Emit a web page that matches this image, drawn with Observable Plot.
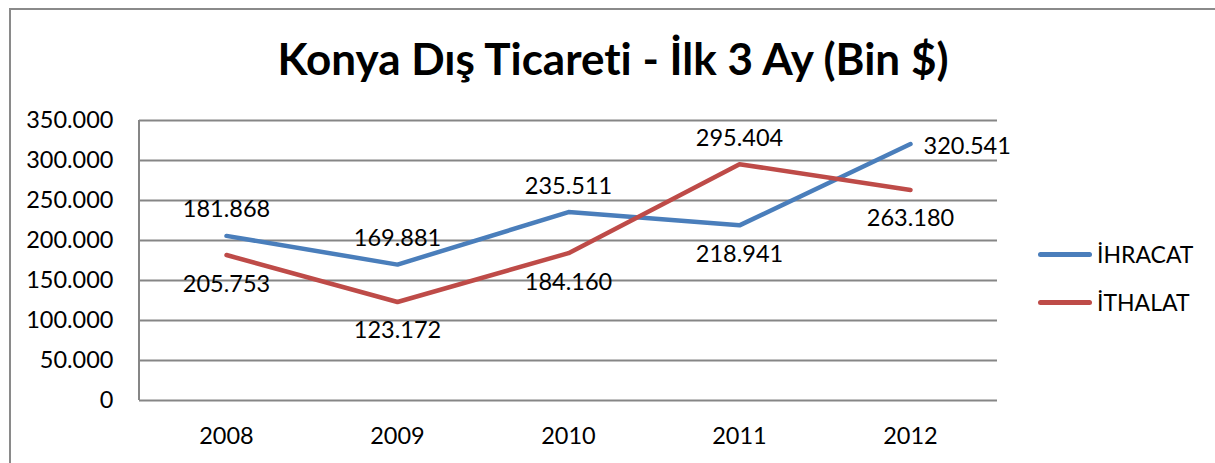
<!DOCTYPE html>
<html>
<head>
<meta charset="utf-8">
<script src="https://cdn.jsdelivr.net/npm/d3@7"></script>
<script src="https://cdn.jsdelivr.net/npm/@observablehq/plot@0.6"></script>
<style>
  html, body { margin: 0; padding: 0; background: #fff; }
  #wrap { position: relative; width: 1215px; height: 463px; overflow: hidden; font-family: Lato, "Open Sans", sans-serif; background: #fff; font-variant-ligatures: none; }
  #frame { position: absolute; left: 9px; top: 8px; width: 1240px; height: 480px; border: 2px solid #8a8a8a; box-sizing: border-box; }
  #plot, #overlay { position: absolute; left: 0; top: 0; }
  svg text { font-variant-ligatures: none; }
  .legend-item { position: absolute; left: 1038px; height: 30px; display: flex; align-items: center; font-size: 23px; color: #000; }
  .legend-item .sw { width: 54px; height: 5px; border-radius: 3px; margin-right: 5px; }
</style>
</head>
<body>
<div id="wrap">
  <div id="frame"></div>
  <div id="plot"></div>
  <svg id="overlay" width="1215" height="463"></svg>
  <div id="legend"></div>
</div>
<script>
// ---- data ----
const years = ["2008", "2009", "2010", "2011", "2012"];
const seriesNames = ["İHRACAT", "İTHALAT"];
const ihracat = [205753, 169881, 235511, 218941, 320541];
const ithalat = [181868, 123172, 184160, 295404, 263180];
// data label texts as printed in the chart
const ihracatLabels = ["181.868", "169.881", "235.511", "218.941", "320.541"];
const ithalatLabels = ["205.753", "123.172", "184.160", "295.404", "263.180"];
// label placement (Excel-style position per label)
const ihracatLabelPos = ["above", "above", "above", "below", "right"];
const ithalatLabelPos = ["below", "below", "below", "above", "below"];
const yTicks = [0, 50000, 100000, 150000, 200000, 250000, 300000, 350000];
const titleText = "Konya Dış Ticareti - İlk 3 Ay (Bin $)";
const colors = ["#4A7EBB", "#BE4B48"];

// ---- build rows ----
const rows = [];
const labelRows = [];
[[ihracat, ihracatLabels, ihracatLabelPos], [ithalat, ithalatLabels, ithalatLabelPos]].forEach(([vals, labs, pos], s) => {
  years.forEach((yr, i) => {
    rows.push({series: seriesNames[s], year: yr, value: vals[i]});
    labelRows.push({series: seriesNames[s], year: yr, value: vals[i], text: labs[i], pos: pos[i]});
  });
});

const trLocale = d3.formatLocale({decimal: ",", thousands: ".", grouping: [3], currency: ["", " TL"]});
const fmt = trLocale.format(",d");

const font = "Lato, 'Open Sans', sans-serif";
const fs = 23.5;

// left axis line drawn from the y scale's extent
function leftAxisLine(index, scales, values, dimensions) {
  const x = dimensions.marginLeft;
  const [y0, y1] = [scales.y(0), scales.y(350000)];
  const g = d3.create("svg:line")
    .attr("x1", x).attr("x2", x).attr("y1", y0).attr("y2", y1)
    .attr("stroke", "#868686").attr("stroke-width", 2);
  return g.node();
}

const chart = Plot.plot({
  width: 1215,
  height: 463,
  marginTop: 120,
  marginBottom: 63,
  marginLeft: 139,
  marginRight: 218,
  style: {fontFamily: font, fontSize: fs + "px", color: "#000", background: "transparent", overflow: "visible"},
  x: {type: "point", domain: years, padding: 0.5, label: null},
  y: {domain: [0, 350000], label: null},
  color: {domain: seriesNames, range: colors},
  marks: [
    Plot.gridY(yTicks, {stroke: "#868686", strokeOpacity: 1, strokeWidth: 2}),
    leftAxisLine,
    Plot.axisY(yTicks, {tickSize: 0, tickPadding: 26, tickFormat: fmt, label: null, fontSize: fs, fill: "#000"}),
    Plot.axisX({tickSize: 0, tickPadding: 27, label: null, fontSize: fs, fill: "#000"}),
    Plot.line(rows, {x: "year", y: "value", z: "series", stroke: "series", strokeWidth: 4.5, strokeLinecap: "round", strokeLinejoin: "round"}),
    Plot.text(labelRows.filter(d => d.pos === "above"), {x: "year", y: "value", text: "text", dy: -26, fontSize: fs, fill: "#000"}),
    Plot.text(labelRows.filter(d => d.pos === "below"), {x: "year", y: "value", text: "text", dy: 29, fontSize: fs, fill: "#000"}),
    Plot.text(labelRows.filter(d => d.pos === "right"), {x: "year", y: "value", text: "text", dx: 13, dy: 2, textAnchor: "start", fontSize: fs, fill: "#000"})
  ]
});
document.getElementById("plot").appendChild(chart);

// title
d3.select("#overlay").append("text")
  .attr("x", 613).attr("y", 75)
  .attr("text-anchor", "middle")
  .style("font-family", font).style("font-weight", "bold").style("font-size", "44px")
  .style("font-variant-ligatures", "none")
  .attr("fill", "#000")
  .text(titleText);

// legend
const legend = d3.select("#legend");
seriesNames.forEach((name, i) => {
  const item = legend.append("div").attr("class", "legend-item").style("top", (239 + i * 48) + "px");
  item.append("div").attr("class", "sw").style("background", colors[i]);
  item.append("span").text(name);
});
</script>
</body>
</html>
